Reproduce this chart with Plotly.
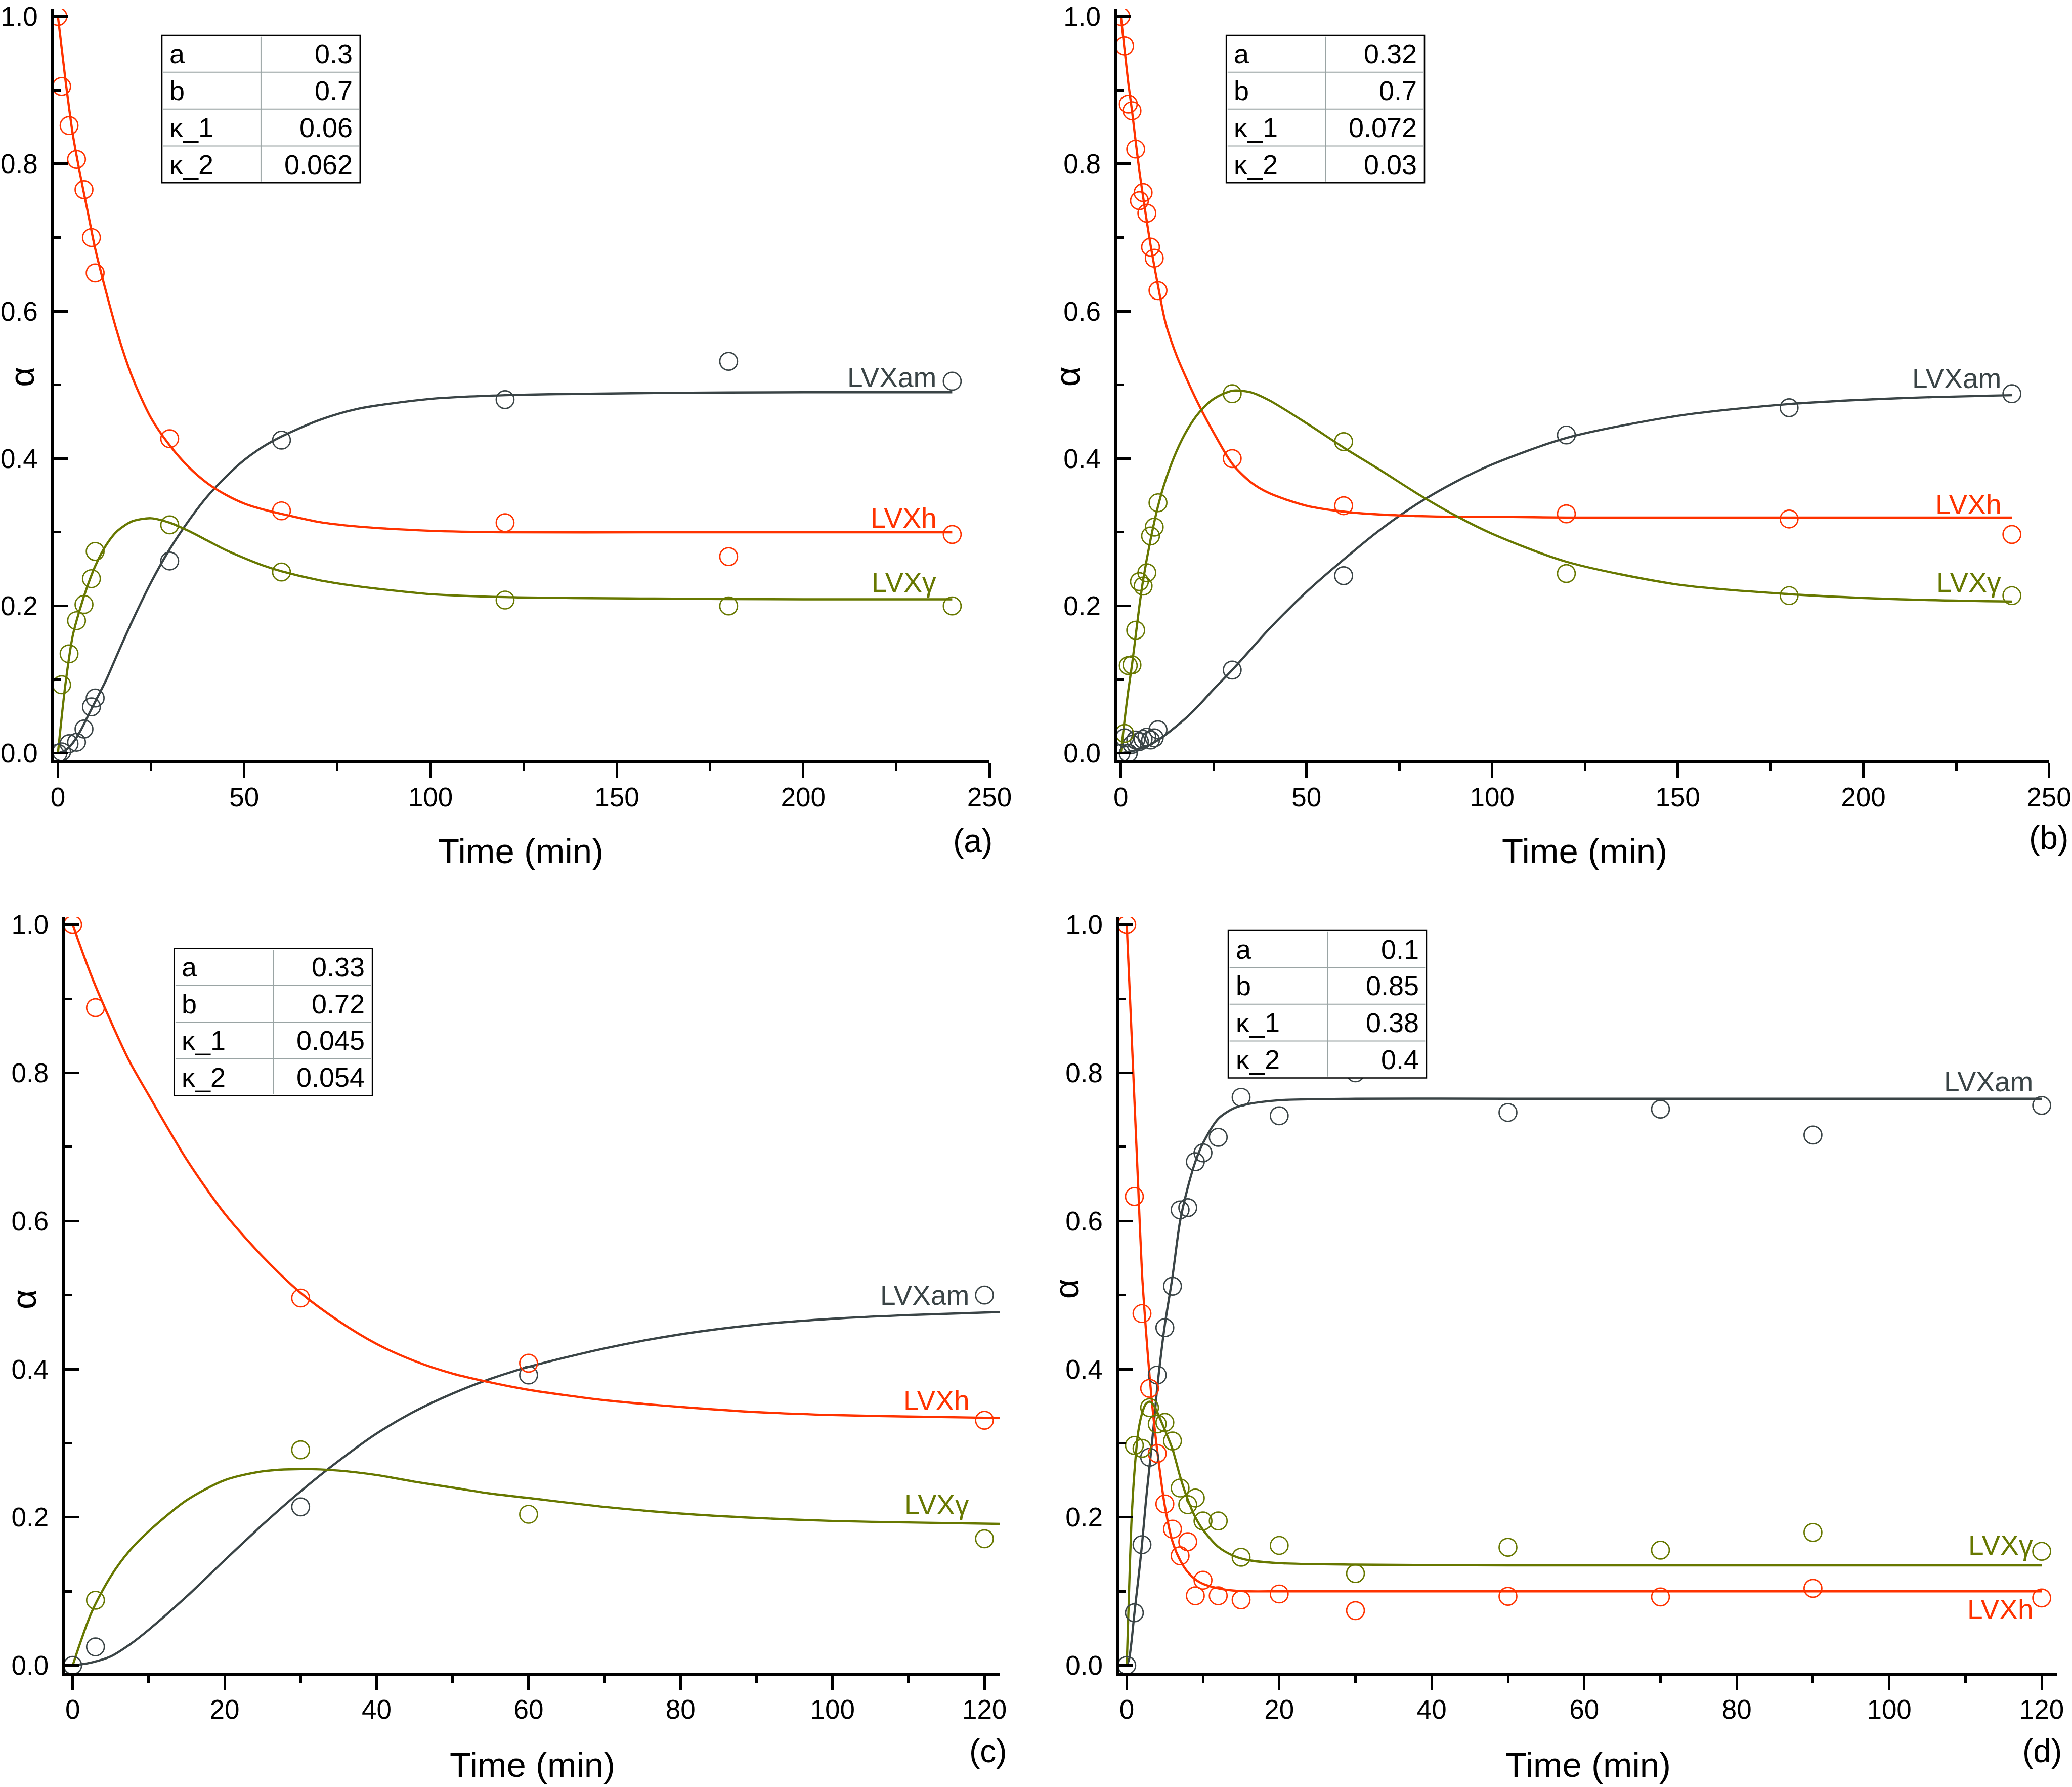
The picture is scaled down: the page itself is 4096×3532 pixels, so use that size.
import plotly.graph_objects as go

# ---------------- data ----------------
# Panel (a)
ta_h = [0, 1, 3, 5, 7, 9, 10, 30, 60, 120, 180, 240]
ya_h = [1.0, 0.905, 0.852, 0.806, 0.765, 0.700, 0.652, 0.427, 0.329, 0.313, 0.267, 0.297]
ta_g = [1, 3, 5, 7, 9, 10, 30, 60, 120, 180, 240]
ya_g = [0.093, 0.135, 0.180, 0.202, 0.237, 0.274, 0.310, 0.246, 0.208, 0.200, 0.200]
ta_am = [0, 1, 3, 5, 7, 9, 10, 30, 60, 120, 180, 240]
ya_am = [0.0, 0.002, 0.013, 0.015, 0.033, 0.063, 0.075, 0.261, 0.425, 0.480, 0.532, 0.505]
ca_t = [0, 2, 4, 6, 8, 10, 13, 16, 20, 25, 30, 35, 40, 45, 50, 55, 60, 70, 80, 100, 120, 160, 200, 240]
ca_h = [1.0, 0.915, 0.84, 0.785, 0.735, 0.685, 0.625, 0.57, 0.51, 0.455, 0.418, 0.389, 0.367, 0.351, 0.339, 0.331, 0.325, 0.314, 0.308, 0.302, 0.300, 0.300, 0.300, 0.300]
ca_g = [0.0, 0.093, 0.16, 0.197, 0.228, 0.254, 0.283, 0.302, 0.315, 0.319, 0.313, 0.302, 0.289, 0.276, 0.265, 0.255, 0.247, 0.235, 0.227, 0.216, 0.212, 0.21, 0.209, 0.209]
ca_am = [0.0, 0.004, 0.014, 0.03, 0.05, 0.07, 0.10, 0.135, 0.18, 0.232, 0.277, 0.315, 0.348, 0.375, 0.398, 0.416, 0.43, 0.452, 0.467, 0.481, 0.486, 0.489, 0.49, 0.49]

# Panel (b)
tb_h = [0, 1, 2, 3, 4, 5, 6, 7, 8, 9, 10, 30, 60, 120, 180, 240]
yb_h = [1.0, 0.960, 0.881, 0.872, 0.820, 0.750, 0.761, 0.733, 0.687, 0.672, 0.628, 0.400, 0.336, 0.325, 0.318, 0.297]
tb_g = [1, 2, 3, 4, 5, 6, 7, 8, 9, 10, 30, 60, 120, 180, 240]
yb_g = [0.027, 0.119, 0.120, 0.167, 0.233, 0.227, 0.245, 0.295, 0.307, 0.340, 0.488, 0.423, 0.244, 0.214, 0.214]
tb_am = [0, 1, 2, 3, 4, 5, 6, 7, 8, 9, 10, 30, 60, 120, 180, 240]
yb_am = [0.0, 0.021, 0.0, 0.012, 0.018, 0.016, 0.019, 0.022, 0.018, 0.021, 0.032, 0.113, 0.241, 0.432, 0.469, 0.488]
cb_t = [0, 1, 2, 3, 4, 5, 6, 8, 10, 12, 15, 18, 21, 25, 30, 35, 40, 50, 60, 70, 80, 90, 100, 120, 150, 180, 210, 240]
cb_h = [1.0, 0.955, 0.91, 0.872, 0.83, 0.79, 0.755, 0.69, 0.635, 0.585, 0.54, 0.505, 0.473, 0.435, 0.393, 0.368, 0.353, 0.336, 0.328, 0.324, 0.322, 0.321, 0.321, 0.32, 0.32, 0.32, 0.32, 0.32]
cb_g = [0.0, 0.045, 0.085, 0.12, 0.16, 0.2, 0.235, 0.29, 0.335, 0.37, 0.41, 0.44, 0.462, 0.481, 0.492, 0.49, 0.479, 0.448, 0.415, 0.384, 0.352, 0.323, 0.298, 0.26, 0.229, 0.216, 0.209, 0.206]
cb_am = [0.0, 0.001, 0.002, 0.003, 0.004, 0.006, 0.008, 0.012, 0.018, 0.025, 0.037, 0.05, 0.065, 0.087, 0.113, 0.141, 0.169, 0.219, 0.263, 0.304, 0.339, 0.368, 0.392, 0.428, 0.458, 0.474, 0.482, 0.486]

# Panel (c)
tc_h = [0, 3, 30, 60, 120]
yc_h = [1.0, 0.888, 0.496, 0.408, 0.331]
tc_g = [3, 30, 60, 120]
yc_g = [0.088, 0.291, 0.204, 0.171]
tc_am = [0, 3, 30, 60, 120]
yc_am = [0.0, 0.025, 0.214, 0.392, 0.500]
cc_t = [0, 2.5, 5, 7.5, 10, 15, 20, 25, 30, 35, 40, 45, 50, 55, 60, 70, 80, 90, 100, 110, 122]
cc_h = [1.0, 0.93, 0.87, 0.815, 0.77, 0.683, 0.61, 0.552, 0.503, 0.465, 0.434, 0.411, 0.394, 0.382, 0.372, 0.358, 0.349, 0.342, 0.338, 0.336, 0.334]
cc_g = [0.0, 0.072, 0.12, 0.155, 0.181, 0.223, 0.25, 0.262, 0.265, 0.263, 0.257, 0.248, 0.24, 0.232, 0.226, 0.214, 0.205, 0.199, 0.195, 0.193, 0.191]
cc_am = [0.0, 0.004, 0.012, 0.028, 0.048, 0.093, 0.142, 0.19, 0.235, 0.276, 0.313, 0.343, 0.367, 0.387, 0.403, 0.428, 0.447, 0.46, 0.468, 0.473, 0.477]

# Panel (d)
td_h = [0, 1, 2, 3, 4, 5, 6, 7, 8, 9, 10, 12, 15, 20, 30, 50, 70, 90, 120]
yd_h = [1.0, 0.633, 0.475, 0.374, 0.286, 0.218, 0.184, 0.148, 0.167, 0.094, 0.115, 0.094, 0.0885, 0.0964, 0.074, 0.0932, 0.0924, 0.104, 0.091]
td_g = [1, 2, 3, 4, 5, 6, 7, 8, 9, 10, 12, 15, 20, 30, 50, 70, 90, 120]
yd_g = [0.297, 0.293, 0.348, 0.326, 0.328, 0.303, 0.2395, 0.217, 0.226, 0.195, 0.195, 0.146, 0.162, 0.124, 0.1595, 0.1556, 0.1795, 0.154]
td_am = [0, 1, 2, 3, 4, 5, 6, 7, 8, 9, 10, 12, 15, 20, 30, 50, 70, 90, 120]
yd_am = [0.0, 0.071, 0.163, 0.281, 0.392, 0.456, 0.512, 0.615, 0.618, 0.680, 0.692, 0.713, 0.767, 0.742, 0.800, 0.7465, 0.751, 0.716, 0.756]
cd_t = [0, 0.3, 0.6, 1, 1.5, 2, 2.5, 3, 3.5, 4, 4.5, 5, 6, 7, 8, 9, 10, 12, 14, 16, 20, 30, 50, 80, 120]
cd_h = [1.0, 0.93, 0.86, 0.765, 0.647, 0.53, 0.455, 0.39, 0.335, 0.29, 0.25, 0.215, 0.167, 0.142, 0.126, 0.116, 0.11, 0.104, 0.101, 0.1, 0.1, 0.1, 0.1, 0.1, 0.1]
cd_g = [0.0, 0.1, 0.19, 0.26, 0.315, 0.34, 0.353, 0.356, 0.352, 0.342, 0.33, 0.318, 0.292, 0.255, 0.224, 0.2, 0.183, 0.16, 0.148, 0.142, 0.138, 0.136, 0.135, 0.135, 0.135]
cd_am = [0.0, 0.008, 0.03, 0.07, 0.115, 0.163, 0.22, 0.27, 0.32, 0.375, 0.42, 0.46, 0.525, 0.6, 0.645, 0.68, 0.705, 0.738, 0.752, 0.758, 0.763, 0.765, 0.765, 0.765, 0.765]

# Parameter tables
param_names = ["a", "b", "κ_1", "κ_2"]
params_a = ["0.3", "0.7", "0.06", "0.062"]
params_b = ["0.32", "0.7", "0.072", "0.03"]
params_c = ["0.33", "0.72", "0.045", "0.054"]
params_d = ["0.1", "0.85", "0.38", "0.4"]

series_names = ["LVXam", "LVXh", "LVXγ"]
panel_tags = ["(a)", "(b)", "(c)", "(d)"]

# ---------------- styling / layout ----------------
RED = "#FF3300"
OLIVE = "#677800"
DARK = "#3A4446"
FONT = "Liberation Sans"

def px(sx):
    return sx / 1568.0

def py(sy):
    return 1 - sy / 1352.0

panels = [
    dict(x="x", y="y", xr=[-1, 250], dx=50, mx=25,
         dom_x=[px(41.0), px(748.8)], dom_y=[py(575.5), py(6.9)],
         h=(ta_h, ya_h), g=(ta_g, ya_g), am=(ta_am, ya_am),
         c=(ca_t, ca_h, ca_g, ca_am), params=params_a,
         lab_x=236, lab_y=(0.51, 0.319, 0.232),
         table=(122.5, 26.8), alpha=(16.5, 285), title=(394, 644), tag=(752, 636)),
    dict(x="x2", y="y2", xr=[-1, 250], dx=50, mx=25,
         dom_x=[px(845.4), px(1550.6)], dom_y=[py(575.5), py(6.9)],
         h=(tb_h, yb_h), g=(tb_g, yb_g), am=(tb_am, yb_am),
         c=(cb_t, cb_h, cb_g, cb_am), params=params_b,
         lab_x=237.4, lab_y=(0.509, 0.338, 0.232),
         table=(928.0, 26.8), alpha=(808, 285), title=(1199, 644), tag=(1566, 634)),
    dict(x="x3", y="y3", xr=[-1, 122], dx=20, mx=10,
         dom_x=[px(49.25), px(756.5)], dom_y=[py(1265.6), py(694.0)],
         h=(tc_h, yc_h), g=(tc_g, yc_g), am=(tc_am, yc_am),
         c=(cc_t, cc_h, cc_g, cc_am), params=params_c,
         lab_x=118.1, lab_y=(0.50, 0.358, 0.217),
         table=(131.8, 717.5), alpha=(18, 983), title=(403, 1335.5), tag=(763, 1325)),
    dict(x="x4", y="y4", xr=[-1, 122], dx=20, mx=10,
         dom_x=[px(846.9), px(1556.6)], dom_y=[py(1265.6), py(694.0)],
         h=(td_h, yd_h), g=(td_g, yd_g), am=(td_am, yd_am),
         c=(cd_t, cd_h, cd_g, cd_am), params=params_d,
         lab_x=119.0, lab_y=(0.788, 0.0755, 0.162),
         table=(929.5, 704.0), alpha=(807, 975), title=(1202, 1335.5), tag=(1561, 1325)),
]

fig = go.Figure()
shapes = []
annotations = []

TW, TH, TDIV = 150.0, 111.5, 75.0   # table size in preview px
ROWH = TH / 4

for i, p in enumerate(panels):
    ct, ch, cg, cam = p["c"]
    for yy, col in ((cam, DARK), (ch, RED), (cg, OLIVE)):
        fig.add_trace(go.Scatter(x=ct, y=yy, mode="lines", xaxis=p["x"], yaxis=p["y"],
                                 line=dict(color=col, width=4.4, shape="spline", smoothing=0.8),
                                 showlegend=False, hoverinfo="skip"))
    for (tt, yy), col in ((p["am"], DARK), (p["h"], RED), (p["g"], OLIVE)):
        fig.add_trace(go.Scatter(x=tt, y=yy, mode="markers", xaxis=p["x"], yaxis=p["y"],
                                 marker=dict(symbol="circle-open", size=35, color=col,
                                             line=dict(width=2.7, color=col)),
                                 showlegend=False))

    for name, col, ly in zip(series_names, (DARK, RED, OLIVE), p["lab_y"]):
        annotations.append(dict(x=p["lab_x"], y=ly, xref=p["x"], yref=p["y"], text=name,
                                showarrow=False, xanchor="right", yanchor="middle",
                                font=dict(family=FONT, size=55, color=col)))

    annotations.append(dict(x=px(p["title"][0]), y=py(p["title"][1]), xref="paper", yref="paper",
                            text="Time (min)", showarrow=False, xanchor="center", yanchor="middle",
                            font=dict(family=FONT, size=69, color="black")))
    annotations.append(dict(x=px(p["alpha"][0]), y=py(p["alpha"][1]), xref="paper", yref="paper",
                            text="α", textangle=-90, showarrow=False, xanchor="center", yanchor="middle",
                            font=dict(family=FONT, size=69, color="black")))
    annotations.append(dict(x=px(p["tag"][0]), y=py(p["tag"][1]), xref="paper", yref="paper",
                            text=panel_tags[i], showarrow=False, xanchor="right", yanchor="middle",
                            font=dict(family=FONT, size=64, color="black")))

    tl, tt0 = p["table"]
    shapes.append(dict(type="rect", xref="paper", yref="paper", layer="above",
                       x0=px(tl), x1=px(tl + TW), y0=py(tt0 + TH), y1=py(tt0),
                       fillcolor="white", line=dict(color="black", width=2.6)))
    shapes.append(dict(type="line", xref="paper", yref="paper", layer="above",
                       x0=px(tl + TDIV), x1=px(tl + TDIV), y0=py(tt0 + TH - 1), y1=py(tt0 + 1),
                       line=dict(color="#9AA4A4", width=2)))
    for r in range(1, 4):
        shapes.append(dict(type="line", xref="paper", yref="paper", layer="above",
                           x0=px(tl + 1), x1=px(tl + TW - 1), y0=py(tt0 + r * ROWH), y1=py(tt0 + r * ROWH),
                           line=dict(color="#9AA4A4", width=2)))
    for r, (nm, val) in enumerate(zip(param_names, p["params"])):
        yc = py(tt0 + (r + 0.5) * ROWH)
        annotations.append(dict(x=px(tl + 5), y=yc, xref="paper", yref="paper", text=nm,
                                showarrow=False, xanchor="left", yanchor="middle",
                                font=dict(family=FONT, size=54, color="black")))
        annotations.append(dict(x=px(tl + TW - 5), y=yc, xref="paper", yref="paper", text=val,
                                showarrow=False, xanchor="right", yanchor="middle",
                                font=dict(family=FONT, size=54, color="black")))

layout = dict(width=4096, height=3532, margin=dict(l=0, r=0, t=0, b=0, pad=0, autoexpand=False),
              paper_bgcolor="white", plot_bgcolor="white", showlegend=False,
              shapes=shapes, annotations=annotations)

for i, p in enumerate(panels):
    xa = "xaxis" if i == 0 else f"xaxis{i+1}"
    ya = "yaxis" if i == 0 else f"yaxis{i+1}"
    layout[xa] = dict(domain=p["dom_x"], range=p["xr"], anchor=p["y"], automargin=False,
                      showline=True, linecolor="black", linewidth=5.5, mirror=False,
                      showgrid=False, zeroline=False, ticklabeloverflow="allow",
                      ticks="outside", ticklen=28, tickwidth=5, tickcolor="black",
                      tick0=0, dtick=p["dx"], ticklabelstandoff=-7,
                      tickfont=dict(family=FONT, size=53, color="black"),
                      minor=dict(ticks="outside", ticklen=14, tickwidth=5, tickcolor="black",
                                 dtick=p["mx"], tick0=0, showgrid=False))
    layout[ya] = dict(domain=p["dom_y"], range=[-0.01, 1.01], anchor=p["x"], automargin=False,
                      showline=True, linecolor="black", linewidth=5.5, mirror=False,
                      showgrid=False, zeroline=False, ticklabeloverflow="allow",
                      ticks="inside", ticklen=28, tickwidth=5, tickcolor="black",
                      tick0=0, dtick=0.2, tickformat=".1f", ticklabelstandoff=16,
                      tickfont=dict(family=FONT, size=53, color="black"),
                      minor=dict(ticks="inside", ticklen=14, tickwidth=5, tickcolor="black",
                                 dtick=0.1, tick0=0, showgrid=False))

fig.update_layout(**layout)
fig.write_html("out.html", config={"displayModeBar": False},
               post_script="document.body.style.margin='0px';document.body.style.overflow='hidden';")
